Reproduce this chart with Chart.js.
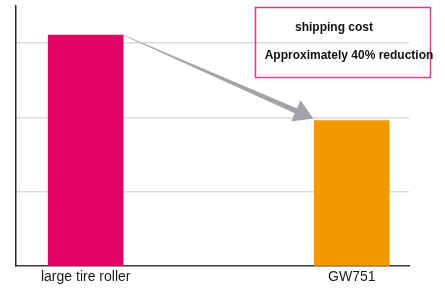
<!DOCTYPE html>
<html>
<head>
<meta charset="utf-8">
<script src="https://cdn.jsdelivr.net/npm/chart.js@4"></script>
<style>
  html, body { margin: 0; padding: 0; background: #fff; }
  #wrap { width: 445px; height: 293px; position: relative; }
</style>
</head>
<body>
<div id="wrap"><canvas id="myChart"></canvas></div>
<script>
const categories = ["large tire roller", "GW751"];
const costValues = [3.11, 1.96];
const barColors = ["#e40064", "#f39800"];
const noteLines = ["shipping cost", "Approximately 40% reduction"];

const FONT = "'Liberation Sans', Arial, sans-serif";

// arrow from the first bar to the second + note box
const notePlugin = {
  id: "note",
  afterDatasetsDraw(chart) {
    const ctx = chart.ctx;
    const bars = chart.getDatasetMeta(0).data;
    const b0 = bars[0];
    const b1 = bars[1];
    const sx = b0.x + b0.width / 2;
    const sy = b0.y;
    const tx = b1.x - b1.width / 2 - 1;
    const ty = b1.y - 2;
    const dx = tx - sx;
    const dy = ty - sy;
    const len = Math.sqrt(dx * dx + dy * dy);
    const ux = dx / len, uy = dy / len;
    const nx = -uy, ny = ux;
    const headLen = 19;
    const headW = 11.5;
    const bx = tx - ux * headLen;
    const by = ty - uy * headLen;

    ctx.save();
    ctx.fillStyle = "#a6a3a8";
    // shaft (thin wedge)
    ctx.beginPath();
    ctx.moveTo(sx - nx * 0.3, sy - ny * 0.3);
    ctx.lineTo(sx + nx * 0.3, sy + ny * 0.3);
    ctx.lineTo(bx + nx * 2.6 + ux, by + ny * 2.6 + uy);
    ctx.lineTo(bx - nx * 2.6 + ux, by - ny * 2.6 + uy);
    ctx.closePath();
    ctx.fill();
    // head
    ctx.beginPath();
    ctx.moveTo(tx, ty);
    ctx.lineTo(bx + nx * headW, by + ny * headW);
    ctx.lineTo(bx - nx * headW, by - ny * headW);
    ctx.closePath();
    ctx.fill();

    // note box
    ctx.strokeStyle = "#e2388c";
    ctx.lineWidth = 1.5;
    ctx.strokeRect(255.5, 7.5, 175, 70);
    ctx.fillStyle = "#111";
    ctx.font = "bold 12px " + FONT;
    ctx.textAlign = "center";
    ctx.textBaseline = "middle";
    ctx.fillText(noteLines[0], 334, 28);
    ctx.fillText(noteLines[1], 349, 56);
    ctx.restore();
  }
};

const ctx = document.getElementById("myChart");
new Chart(ctx, {
  type: "bar",
  data: {
    datasets: [
      {
        data: costValues.map((v, i) => ({ x: i, y: v })),
        backgroundColor: barColors,
        barThickness: 75,
        borderWidth: 0,
      },
    ],
  },
  options: {
    responsive: true,
    maintainAspectRatio: false,
    animation: false,
    layout: { padding: { left: 16, right: 36, top: 6, bottom: 4 } },
    plugins: { legend: { display: false }, tooltip: { enabled: false } },
    scales: {
      x: {
        type: "linear",
        offset: false,
        bounds: "data",
        min: -0.262,
        max: 1.215,
        afterDataLimits: (scale) => {
          scale.min = -0.262;
          scale.max = 1.215;
        },
        afterBuildTicks: (scale) => {
          scale.ticks = categories.map((c, i) => ({ value: i }));
        },
        grid: { display: false, drawTicks: false },
        border: { color: "#3a3a3a", width: 1.5 },
        ticks: {
          padding: 3,
          color: "#1a1a1a",
          font: { family: FONT, size: 14 },
          callback: (v) => categories[v],
          maxRotation: 0,
          autoSkip: false,
        },
      },
      y: {
        min: 0,
        max: 3.5,
        afterBuildTicks: (scale) => {
          scale.ticks = scale.ticks.filter((t) => Number.isInteger(t.value));
        },
        ticks: { display: false, stepSize: 1 },
        grid: {
          drawTicks: false,
          color: (c) => (c.tick && c.tick.value === 0 ? "rgba(0,0,0,0)" : "#dcdcdc"),
          lineWidth: 1.5,
        },
        border: { color: "#2a2a2a", width: 1.5 },
      },
    },
  },
  plugins: [notePlugin],
});
</script>
</body>
</html>
